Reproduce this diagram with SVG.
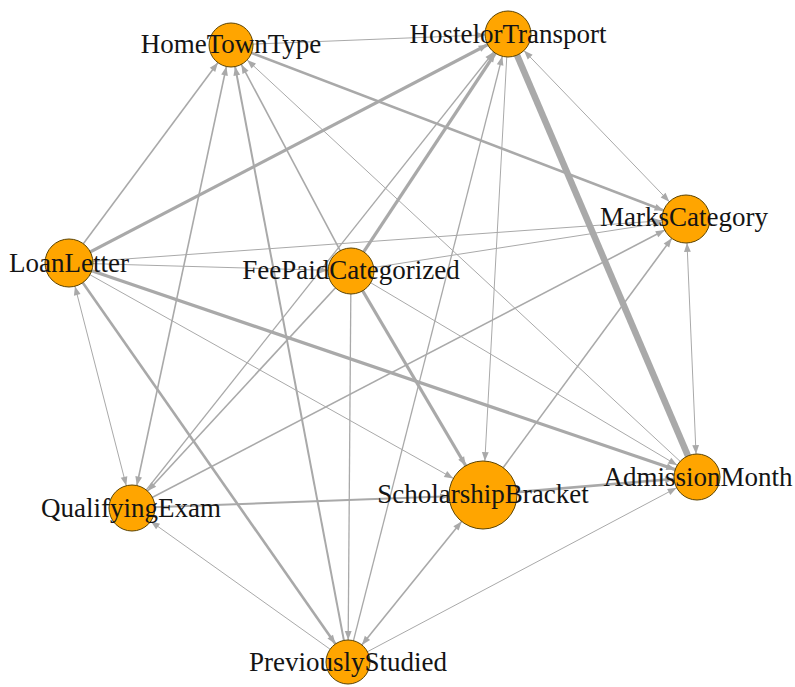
<svg xmlns="http://www.w3.org/2000/svg" width="795" height="687" viewBox="0 0 795 687">
  <style>
    .e { stroke: #a9a9a9; fill: none; stroke-linecap: butt; }
    .w1 { stroke-width: 1; }
    .w12 { stroke-width: 1.3; }
    .w15 { stroke-width: 1.6; }
    .w2 { stroke-width: 2; }
    .w25 { stroke-width: 2.6; }
    .w3 { stroke-width: 3.2; }
    .w6 { stroke-width: 6.5; }
    .node circle { fill: #ffa500; stroke: #5c4300; stroke-width: 1; }
    .lbl { font-family: "Liberation Serif", "Times New Roman", serif; font-size: 27px; fill: #141414; text-anchor: middle; }
  </style>
  <defs>
    <!-- arrowheads: tip pulled back by the target circle radius -->
    <marker id="m22" markerUnits="userSpaceOnUse" markerWidth="60" markerHeight="12" refX="32" refY="6" orient="auto-start-reverse" overflow="visible">
      <path d="M1,2.6 L10,6 L1,9.4 Z" fill="#a9a9a9"/>
    </marker>
    <marker id="m23" markerUnits="userSpaceOnUse" markerWidth="60" markerHeight="12" refX="33" refY="6" orient="auto-start-reverse" overflow="visible">
      <path d="M1,2.6 L10,6 L1,9.4 Z" fill="#a9a9a9"/>
    </marker>
    <marker id="m24" markerUnits="userSpaceOnUse" markerWidth="60" markerHeight="12" refX="34" refY="6" orient="auto-start-reverse" overflow="visible">
      <path d="M1,2.6 L10,6 L1,9.4 Z" fill="#a9a9a9"/>
    </marker>
    <marker id="m34" markerUnits="userSpaceOnUse" markerWidth="60" markerHeight="12" refX="44" refY="6" orient="auto-start-reverse" overflow="visible">
      <path d="M1,2.6 L10,6 L1,9.4 Z" fill="#a9a9a9"/>
    </marker>
  </defs>

  <g id="edges">
    <!-- HomeTownType -->
    <line class="e w1" x1="231" y1="45" x2="508" y2="34" marker-end="url(#m23)"/>
    <line class="e w25" x1="231" y1="45" x2="686" y2="219" marker-end="url(#m24)"/>
    <line class="e w15" x1="69" y1="263" x2="231" y2="45" marker-end="url(#m22)"/>
    <line class="e w15" x1="132" y1="508" x2="231" y2="45" marker-start="url(#m23)" marker-end="url(#m22)"/>
    <line class="e w2" x1="348" y1="662" x2="231" y2="45" marker-end="url(#m22)"/>
    <line class="e w15" x1="351" y1="271" x2="231" y2="45" marker-end="url(#m22)"/>
    <line class="e w1" x1="697" y1="477" x2="231" y2="45" marker-end="url(#m22)"/>
    <!-- HostelorTransport -->
    <line class="e w3" x1="69" y1="263" x2="508" y2="34" marker-end="url(#m23)"/>
    <line class="e w3" x1="351" y1="271" x2="508" y2="34" marker-end="url(#m23)"/>
    <line class="e w12" x1="132" y1="508" x2="508" y2="34" marker-end="url(#m23)"/>
    <line class="e w12" x1="348" y1="662" x2="508" y2="34" marker-end="url(#m23)"/>
    <line class="e w1" x1="508" y1="34" x2="483" y2="495" marker-end="url(#m34)"/>
    <line class="e w6" x1="508" y1="34" x2="697" y2="477"/>
    <line class="e w1" x1="508" y1="34" x2="686" y2="219" marker-start="url(#m23)" marker-end="url(#m24)"/>
    <!-- MarksCategory -->
    <line class="e w1" x1="69" y1="263" x2="686" y2="219" marker-end="url(#m24)"/>
    <line class="e w1" x1="351" y1="271" x2="686" y2="219" marker-end="url(#m24)"/>
    <line class="e w15" x1="132" y1="508" x2="686" y2="219" marker-end="url(#m24)"/>
    <line class="e w15" x1="483" y1="495" x2="686" y2="219" marker-end="url(#m24)"/>
    <line class="e w1" x1="697" y1="477" x2="686" y2="219" marker-start="url(#m23)" marker-end="url(#m24)"/>
    <!-- FeePaidCategorized -->
    <line class="e w1" x1="69" y1="263" x2="351" y2="271" marker-end="url(#m23)"/>
    <line class="e w15" x1="351" y1="271" x2="132" y2="508" marker-end="url(#m23)"/>
    <line class="e w3" x1="351" y1="271" x2="483" y2="495" marker-end="url(#m34)"/>
    <line class="e w12" x1="351" y1="271" x2="348" y2="662" marker-end="url(#m22)"/>
    <line class="e w1" x1="351" y1="271" x2="697" y2="477" marker-end="url(#m23)"/>
    <!-- LoanLetter -->
    <line class="e w3" x1="69" y1="263" x2="697" y2="477" marker-end="url(#m23)"/>
    <line class="e w1" x1="69" y1="263" x2="483" y2="495" marker-end="url(#m34)"/>
    <line class="e w25" x1="69" y1="263" x2="348" y2="662" marker-end="url(#m22)"/>
    <line class="e w1" x1="69" y1="263" x2="132" y2="508" marker-start="url(#m24)" marker-end="url(#m23)"/>
    <!-- QualifyingExam / ScholarshipBracket / PreviouslyStudied -->
    <line class="e w2" x1="132" y1="508" x2="483" y2="495" marker-end="url(#m34)"/>
    <line class="e w1" x1="348" y1="662" x2="132" y2="508" marker-end="url(#m23)"/>
    <line class="e w25" x1="483" y1="495" x2="697" y2="477" marker-end="url(#m23)"/>
    <line class="e w15" x1="483" y1="495" x2="348" y2="662" marker-start="url(#m34)" marker-end="url(#m22)"/>
    <line class="e w1" x1="348" y1="662" x2="697" y2="477" marker-end="url(#m23)"/>
  </g>

  <g id="node-HomeTownType" class="node"><circle cx="231" cy="45" r="22"/></g>
  <g id="node-HostelorTransport" class="node"><circle cx="508" cy="34" r="23"/></g>
  <g id="node-MarksCategory" class="node"><circle cx="686" cy="219" r="24"/></g>
  <g id="node-LoanLetter" class="node"><circle cx="69" cy="263" r="24"/></g>
  <g id="node-FeePaidCategorized" class="node"><circle cx="351" cy="271" r="23"/></g>
  <g id="node-QualifyingExam" class="node"><circle cx="132" cy="508" r="23"/></g>
  <g id="node-ScholarshipBracket" class="node"><circle cx="483" cy="495" r="34"/></g>
  <g id="node-AdmissionMonth" class="node"><circle cx="697" cy="477" r="23"/></g>
  <g id="node-PreviouslyStudied" class="node"><circle cx="348" cy="662" r="22"/></g>

  <g id="labels">
    <text class="lbl" x="231" y="53">HomeTownType</text>
    <text class="lbl" x="508" y="43">HostelorTransport</text>
    <text class="lbl" x="684" y="226">MarksCategory</text>
    <text class="lbl" x="69" y="272">LoanLetter</text>
    <text class="lbl" x="351" y="279">FeePaidCategorized</text>
    <text class="lbl" x="131" y="517">QualifyingExam</text>
    <text class="lbl" x="483" y="503">ScholarshipBracket</text>
    <text class="lbl" x="698" y="486">AdmissionMonth</text>
    <text class="lbl" x="348" y="671">PreviouslyStudied</text>
  </g>
</svg>
